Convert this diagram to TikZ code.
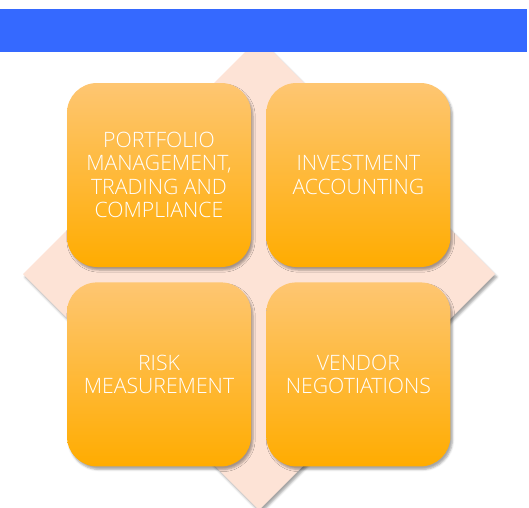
\documentclass[tikz,border=0pt]{standalone}
\usepackage{fontspec}
\setmainfont{Open Sans}[UprightFont=* Light]
\usetikzlibrary{positioning,shadows.blur}
\definecolor{barblue}{HTML}{3569FF}
\definecolor{diamondpink}{HTML}{FDE3D6}
\definecolor{boxtop}{HTML}{FEC672}
\definecolor{boxbottom}{HTML}{FFAC00}
\begin{document}
\begin{tikzpicture}[
       x=1pt, y=-1pt,
       diamond_style/.style={fill=diamondpink, blur shadow={shadow xshift=2pt, shadow yshift=-3pt, shadow opacity=35}}, % 菱形背景:浅粉色、带阴影
       box_style/.style={rounded corners=30pt, minimum width=184pt, minimum height=184pt,
           top color=boxtop, bottom color=boxbottom, text=white, align=center,
           font=\fontsize{21.2}{23.5}\selectfont,
           blur shadow={shadow xshift=2pt, shadow yshift=-3pt, shadow opacity=35}}, % 圆角方块:橙色渐变、白色文字
       bar_style/.style={fill=barblue} % 顶部横条:蓝色
   ]
   \useasboundingbox (0,0) rectangle (529,507);

   % 1. 绘制菱形背景(中心约在(259,274))
   \fill[diamond_style] (259,38) -- (495,274) -- (259,510) -- (23,274) -- cycle;

   % 2. 绘制顶部蓝色横条(盖住菱形顶角)
   \fill[bar_style] (0,9) rectangle (527,52);

   % 3. 绘制四个圆角方块
   \node[box_style] (portfolio) at (159,175) {PORTFOLIO\\MANAGEMENT,\\TRADING AND\\COMPLIANCE};
   \node[box_style, right=15pt of portfolio] (accounting) {INVESTMENT\\ACCOUNTING};
   \node[box_style, below=15pt of portfolio] (risk) {RISK\\MEASUREMENT};
   \node[box_style, below=15pt of accounting] (vendor) {VENDOR\\NEGOTIATIONS};

   \end{tikzpicture}
\end{document}
